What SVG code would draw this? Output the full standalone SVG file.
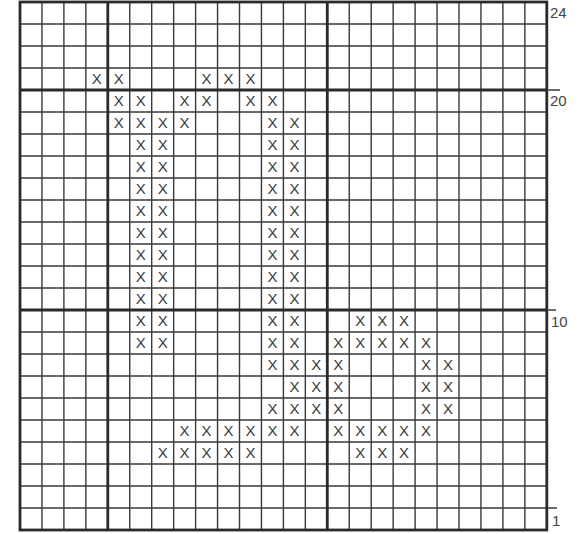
<svg xmlns="http://www.w3.org/2000/svg" width="586" height="534" viewBox="0 0 586 534">
<style>
.thin{stroke:#3a3a3a;stroke-width:1.4;fill:none}
.thick{stroke:#2a2a2a;stroke-width:2.8;fill:none}
.x{font-family:"Liberation Sans",Arial,sans-serif;font-size:15px;fill:#3c3c3c;text-anchor:middle}
.lbl{font-family:"Liberation Sans",Arial,sans-serif;font-size:15px;fill:#444}
</style>
<rect width="586" height="534" fill="#fff"/>
<g id="grid">
<path class="thin" d="M41.95 2V530M63.9 2V530M85.85 2V530M129.75 2V530M151.7 2V530M173.65 2V530M195.6 2V530M217.55 2V530M239.5 2V530M261.45 2V530M283.4 2V530M305.35 2V530M349.25 2V530M371.2 2V530M393.15 2V530M415.1 2V530M437.05 2V530M459 2V530M480.95 2V530M502.9 2V530M524.85 2V530
M20 24H546.8M20 46H546.8M20 68H546.8M20 112H546.8M20 134H546.8M20 156H546.8M20 178H546.8M20 200H546.8M20 222H546.8M20 244H546.8M20 266H546.8M20 288H546.8M20 332H546.8M20 354H546.8M20 376H546.8M20 398H546.8M20 420H546.8M20 442H546.8M20 464H546.8M20 486H546.8M20 508H546.8"/>
<path class="thick" d="M107.8 2V530M327.3 2V530M20 90H546.8M20 310H546.8"/>
<rect class="thick" x="20" y="2" width="526.8" height="528"/>
<path class="thin" d="M546.8 90H560M546.8 310H556M546.8 508H557"/>
</g>
<g id="labels">
<text class="lbl" x="550" y="18">24</text>
<text class="lbl" x="550" y="106">20</text>
<text class="lbl" x="551" y="327">10</text>
<text class="lbl" x="552" y="526">1</text>
</g>
<g id="stitches">
<text class="x" x="96.8" y="84">X</text><text class="x" x="118.8" y="84">X</text><text class="x" x="206.6" y="84">X</text><text class="x" x="228.5" y="84">X</text><text class="x" x="250.5" y="84">X</text>
<text class="x" x="118.8" y="106">X</text><text class="x" x="140.7" y="106">X</text><text class="x" x="184.6" y="106">X</text><text class="x" x="206.6" y="106">X</text><text class="x" x="250.5" y="106">X</text><text class="x" x="272.4" y="106">X</text>
<text class="x" x="118.8" y="128">X</text><text class="x" x="140.7" y="128">X</text><text class="x" x="162.7" y="128">X</text><text class="x" x="184.6" y="128">X</text><text class="x" x="272.4" y="128">X</text><text class="x" x="294.4" y="128">X</text>
<text class="x" x="140.7" y="150">X</text><text class="x" x="162.7" y="150">X</text><text class="x" x="272.4" y="150">X</text><text class="x" x="294.4" y="150">X</text>
<text class="x" x="140.7" y="172">X</text><text class="x" x="162.7" y="172">X</text><text class="x" x="272.4" y="172">X</text><text class="x" x="294.4" y="172">X</text>
<text class="x" x="140.7" y="194">X</text><text class="x" x="162.7" y="194">X</text><text class="x" x="272.4" y="194">X</text><text class="x" x="294.4" y="194">X</text>
<text class="x" x="140.7" y="216">X</text><text class="x" x="162.7" y="216">X</text><text class="x" x="272.4" y="216">X</text><text class="x" x="294.4" y="216">X</text>
<text class="x" x="140.7" y="238">X</text><text class="x" x="162.7" y="238">X</text><text class="x" x="272.4" y="238">X</text><text class="x" x="294.4" y="238">X</text>
<text class="x" x="140.7" y="260">X</text><text class="x" x="162.7" y="260">X</text><text class="x" x="272.4" y="260">X</text><text class="x" x="294.4" y="260">X</text>
<text class="x" x="140.7" y="282">X</text><text class="x" x="162.7" y="282">X</text><text class="x" x="272.4" y="282">X</text><text class="x" x="294.4" y="282">X</text>
<text class="x" x="140.7" y="304">X</text><text class="x" x="162.7" y="304">X</text><text class="x" x="272.4" y="304">X</text><text class="x" x="294.4" y="304">X</text>
<text class="x" x="140.7" y="326">X</text><text class="x" x="162.7" y="326">X</text><text class="x" x="272.4" y="326">X</text><text class="x" x="294.4" y="326">X</text><text class="x" x="360.2" y="326">X</text><text class="x" x="382.2" y="326">X</text><text class="x" x="404.1" y="326">X</text>
<text class="x" x="140.7" y="348">X</text><text class="x" x="162.7" y="348">X</text><text class="x" x="272.4" y="348">X</text><text class="x" x="294.4" y="348">X</text><text class="x" x="338.3" y="348">X</text><text class="x" x="360.2" y="348">X</text><text class="x" x="382.2" y="348">X</text><text class="x" x="404.1" y="348">X</text><text class="x" x="426.1" y="348">X</text>
<text class="x" x="272.4" y="370">X</text><text class="x" x="294.4" y="370">X</text><text class="x" x="316.3" y="370">X</text><text class="x" x="338.3" y="370">X</text><text class="x" x="426.1" y="370">X</text><text class="x" x="448" y="370">X</text>
<text class="x" x="294.4" y="392">X</text><text class="x" x="316.3" y="392">X</text><text class="x" x="338.3" y="392">X</text><text class="x" x="426.1" y="392">X</text><text class="x" x="448" y="392">X</text>
<text class="x" x="272.4" y="414">X</text><text class="x" x="294.4" y="414">X</text><text class="x" x="316.3" y="414">X</text><text class="x" x="338.3" y="414">X</text><text class="x" x="426.1" y="414">X</text><text class="x" x="448" y="414">X</text>
<text class="x" x="184.6" y="436">X</text><text class="x" x="206.6" y="436">X</text><text class="x" x="228.5" y="436">X</text><text class="x" x="250.5" y="436">X</text><text class="x" x="272.4" y="436">X</text><text class="x" x="294.4" y="436">X</text><text class="x" x="338.3" y="436">X</text><text class="x" x="360.2" y="436">X</text><text class="x" x="382.2" y="436">X</text><text class="x" x="404.1" y="436">X</text><text class="x" x="426.1" y="436">X</text>
<text class="x" x="162.7" y="458">X</text><text class="x" x="184.6" y="458">X</text><text class="x" x="206.6" y="458">X</text><text class="x" x="228.5" y="458">X</text><text class="x" x="250.5" y="458">X</text><text class="x" x="360.2" y="458">X</text><text class="x" x="382.2" y="458">X</text><text class="x" x="404.1" y="458">X</text>
</g>
</svg>
